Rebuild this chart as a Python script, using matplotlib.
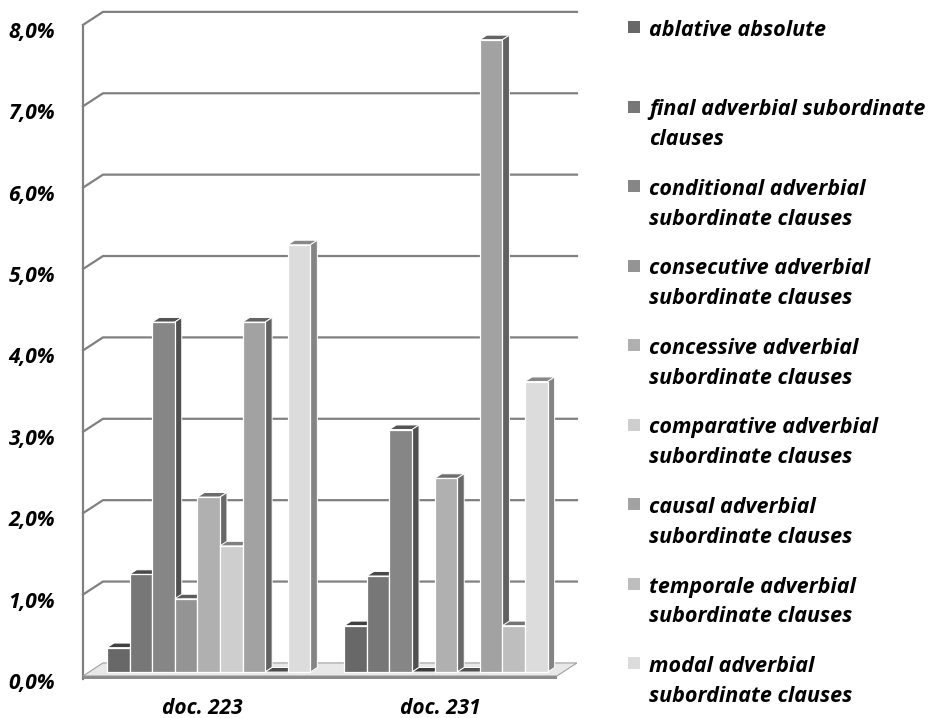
import matplotlib.pyplot as plt
from matplotlib.patches import Polygon, Rectangle

plt.rcParams['font.family'] = ['Open Sans', 'DejaVu Sans']

### data (percent) ###
docs = ['doc. 223', 'doc. 231']
series = ['ablative absolute',
          'final adverbial subordinate\nclauses',
          'conditional adverbial\nsubordinate clauses',
          'consecutive adverbial\nsubordinate clauses',
          'concessive adverbial\nsubordinate clauses',
          'comparative adverbial\nsubordinate clauses',
          'causal adverbial\nsubordinate clauses',
          'temporale adverbial\nsubordinate clauses',
          'modal adverbial\nsubordinate clauses']
doc_223 = [0.3, 1.2, 4.3, 0.9, 2.15, 1.55, 4.3, 0.0, 5.25]
doc_231 = [0.57, 1.18, 2.98, 0.0, 2.38, 0.0, 7.77, 0.57, 3.57]
y_ticks = [0, 1, 2, 3, 4, 5, 6, 7, 8]

colors = ['#686868', '#777777', '#868686', '#949494', '#b0b0b0',
          '#cecece', '#a2a2a2', '#bebebe', '#dcdcdc']


def shade(c, f):
    r, g, b = [int(c[i:i + 2], 16) for i in (1, 3, 5)]
    return '#%02x%02x%02x' % (int(r * f), int(g * f), int(b * f))


fig = plt.figure(figsize=(9.35, 7.18), dpi=100)
ax = fig.add_axes([83 / 935, 37 / 718, 494 / 935, 671 / 718])
x_left, x_right = -1.06, 20.8
ax.set_xlim(x_left, x_right)
ax.set_ylim(-0.098, 8.135)
ax.set_frame_on(False)

# oblique depth vector (full depth of the plot box)
ddx, ddy = 0.885, 0.16
front = (-0.3 * ddx, -0.3 * ddy)   # wall front relative to bar plane
back = (0.7 * ddx, 0.7 * ddy)      # back wall relative to bar plane
bdx, bdy = 0.31, 0.056             # bar depth

grid_c = '#808080'
# back wall gridlines
for g in y_ticks[1:]:
    ax.plot([x_left, x_left + ddx, x_right],
            [g + front[1], g + back[1], g + back[1]],
            color=grid_c, lw=1.6, zorder=1, clip_on=False)
# left wall edge
ax.plot([x_left, x_left], [-0.085, y_ticks[-1] + front[1]],
        color=grid_c, lw=1.6, zorder=1, clip_on=False)

# floor
floor = Polygon([(x_left, front[1]), (x_right - ddx, front[1]),
                 (x_right, back[1]), (x_left + ddx, back[1])],
                closed=True, fc='#e8e8e8', ec='#a0a0a0', lw=0.8, zorder=1.2)
ax.add_patch(floor)
ax.add_patch(Polygon([(x_left, front[1]), (x_right - ddx, front[1]),
                      (x_right - ddx, front[1] - 0.035), (x_left, front[1] - 0.035)],
                     closed=True, fc='#8c8c8c', ec='none', zorder=1.3))

# bars
group_step = 10.5
for k, vals in enumerate([doc_223, doc_231]):
    for j, v in enumerate(vals):
        x = k * group_step + j
        z = 2 + x * 0.1
        top = Polygon([(x, v), (x + 1, v), (x + 1 + bdx, v + bdy), (x + bdx, v + bdy)],
                      closed=True, fc=shade(colors[j], 0.62 if v > 0 else 0.4),
                      ec='white', lw=0.7, zorder=z)
        ax.add_patch(top)
        if v > 0:
            side = Polygon([(x + 1, 0), (x + 1, v), (x + 1 + bdx, v + bdy), (x + 1 + bdx, bdy)],
                           closed=True, fc=shade(colors[j], 0.6),
                           ec='white', lw=0.7, zorder=z)
            ax.add_patch(side)
            ax.bar(x, v, width=1, align='edge', color=colors[j],
                   edgecolor='white', lw=0.9, zorder=z + 0.01)

# ticks
ax.set_yticks([g - 0.11 for g in y_ticks])
ax.set_yticklabels(['%d,0%%' % g for g in y_ticks], fontsize=15,
                   fontweight='bold', style='italic')
ax.set_xticks([k * group_step + 4.5 + front[0] for k in range(len(docs))])
ax.set_xticklabels(docs, fontsize=15, fontweight='bold', style='italic')
ax.tick_params(axis='y', length=0, pad=20)
ax.tick_params(axis='x', length=0, pad=12)

# legend
for i, name in enumerate(series):
    yc = 27 + 79.5 * i
    fig.patches.append(Rectangle((628 / 935, 1 - (yc + 6) / 718), 12 / 935, 12 / 718,
                                 transform=fig.transFigure, fc=colors[i], ec='none'))
    fig.text(649 / 935, 1 - (yc - 7) / 718, name, fontsize=15.5, fontweight='bold',
             style='italic', va='top', ha='left', linespacing=1.55)

plt.savefig('out.png', dpi=100)
